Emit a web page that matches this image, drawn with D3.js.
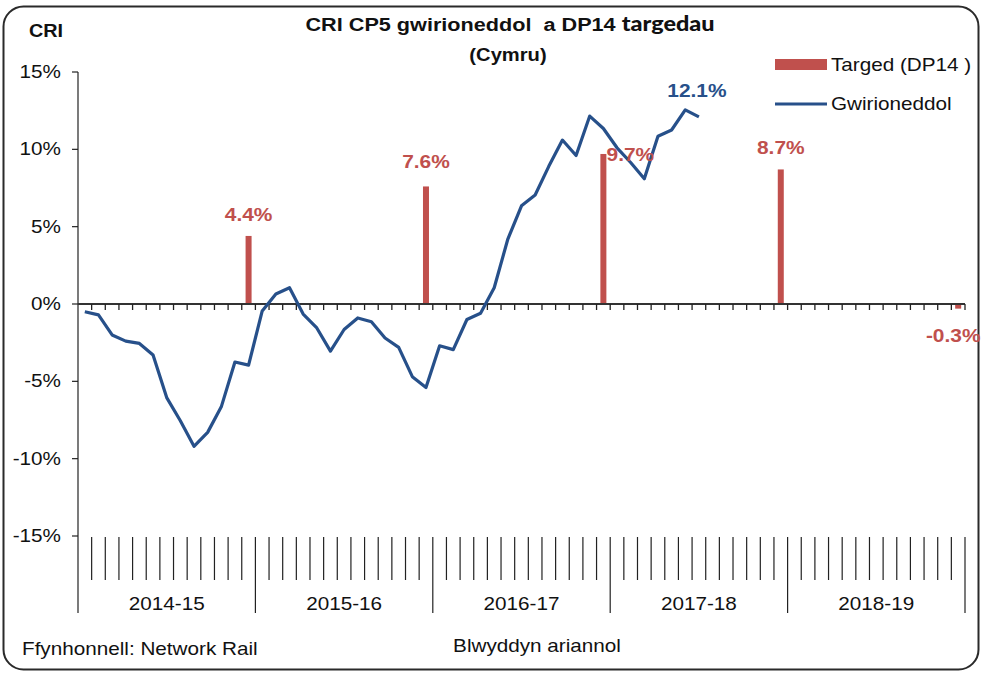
<!DOCTYPE html>
<html><head><meta charset="utf-8">
<script src="https://cdn.jsdelivr.net/npm/d3@7/dist/d3.min.js"></script>
<style>
html,body{margin:0;padding:0;background:#fff;}
svg text{font-family:"Liberation Sans",Arial,sans-serif;white-space:pre;}
</style></head>
<body><svg id="c" width="981" height="673"></svg>
<script>
// ---- data ----
const years = ["2014-15","2015-16","2016-17","2017-18","2018-19"];
const periods = ["P1","P2","P3","P4","P5","P6","P7","P8","P9","P10","P11","P12","P13"];
const actual = [-0.5,-0.7,-2.0,-2.4,-2.55,-3.3,-6.05,-7.55,-9.2,-8.3,-6.65,-3.75,-3.95,
  -0.45,0.65,1.05,-0.65,-1.55,-3.05,-1.65,-0.9,-1.15,-2.2,-2.8,-4.7,-5.4,
  -2.7,-2.95,-1.0,-0.6,1.05,4.2,6.35,7.05,8.9,10.6,9.6,12.15,11.35,
  10.1,9.15,8.1,10.85,11.25,12.55,12.1];
const targetYears = ["2014-15","2015-16","2016-17","2017-18","2018-19"];
const targetPeriod = "P13";
const targets = [4.4,7.6,9.7,8.7,-0.3];
const yTicks = [15,10,5,0,-5,-10,-15];

const categories = [];
years.forEach(y => periods.forEach(p => categories.push(y + " " + p)));

const svg = d3.select("#c");
const SX = 1.15;
const red = "#C0504D", blue = "#27508A";

// frame
svg.append("rect").attr("x",3.5).attr("y",6.5).attr("width",975).attr("height",663)
  .attr("rx",20).attr("fill","#fff").attr("stroke","#2a2a2a").attr("stroke-width",2);

const x = d3.scaleBand().domain(categories).range([78,965]).padding(0);
const y = d3.scaleLinear().domain([-15,15]).range([536,72]);

function txt(xp, yp, s, o={}){
  const t = svg.append("text")
    .attr("transform",`translate(${xp},${yp}) scale(${o.sx||SX},1)`)
    .attr("text-anchor",o.anchor||"start")
    .attr("font-size",o.size||18)
    .attr("font-weight",o.weight||"normal")
    .attr("fill",o.fill||"#111")
    .text(s);
  return t;
}

// y axis
svg.append("line").attr("x1",78).attr("x2",78).attr("y1",y(15)).attr("y2",613)
  .attr("stroke","#222").attr("stroke-width",1.2);
yTicks.forEach(v=>{
  svg.append("line").attr("x1",72).attr("x2",78).attr("y1",y(v)).attr("y2",y(v))
    .attr("stroke","#222").attr("stroke-width",1.2);
  txt(61, y(v)+6, v+"%", {anchor:"end"});
});

// bottom category ticks
categories.forEach((c,i)=>{
  const xx = x(c) + x.bandwidth();
  const isYear = (i % 13) === 12;
  svg.append("line").attr("x1",xx).attr("x2",xx).attr("y1",537).attr("y2",isYear?613:580)
    .attr("stroke","#222").attr("stroke-width",1.2);
});
years.forEach(yr=>{
  const x0 = x(yr+" P1"), x1 = x(yr+" P13")+x.bandwidth();
  txt((x0+x1)/2, 610, yr, {anchor:"middle"});
});

// bars
targets.forEach((v,i)=>{
  const c = targetYears[i]+" "+targetPeriod;
  const cx = x(c)+x.bandwidth()/2;
  svg.append("rect").attr("x",cx-3).attr("width",6)
    .attr("y",Math.min(y(v),y(0))).attr("height",Math.abs(y(v)-y(0)))
    .attr("fill",red);
});

// zero axis
svg.append("line").attr("x1",78).attr("x2",965).attr("y1",y(0)).attr("y2",y(0))
  .attr("stroke","#333").attr("stroke-width",1.8);
categories.forEach(c=>{
  const xx = x(c)+x.bandwidth();
  svg.append("line").attr("x1",xx).attr("x2",xx).attr("y1",y(0)).attr("y2",y(0)+6)
    .attr("stroke","#222").attr("stroke-width",1.3);
});

// line
const line = d3.line().x((d,i)=>x(categories[i])+x.bandwidth()/2).y(d=>y(d));
svg.append("path").datum(actual).attr("d",line).attr("fill","none")
  .attr("stroke",blue).attr("stroke-width",3.2).attr("stroke-linejoin","round");

// bar labels
const labOff = [[0,-15],[0,-18],[27,7],[0,-15],[-5,38]];
targets.forEach((v,i)=>{
  const c = targetYears[i]+" "+targetPeriod;
  const cx = x(c)+x.bandwidth()/2;
  const top = v>=0 ? y(v) : y(0);
  txt(cx+labOff[i][0], top+labOff[i][1], v.toFixed(1)+"%",
      {anchor:"middle",weight:"bold",size:19,sx:1.1,fill:red});
});
// last actual label
{
  const i = actual.length-1;
  const cx = x(categories[i])+x.bandwidth()/2;
  txt(cx-2, y(actual[i])-20, actual[i].toFixed(1)+"%", {anchor:"middle",weight:"bold",size:19,sx:1.1,fill:blue});
}

// legend
svg.append("rect").attr("x",775).attr("y",59).attr("width",52).attr("height",11).attr("fill",red);
txt(831, 71, "Targed (DP14 )");
svg.append("line").attr("x1",775).attr("x2",827).attr("y1",104).attr("y2",104)
  .attr("stroke",blue).attr("stroke-width",3);
txt(831, 110, "Gwirioneddol");

// titles
const tt = svg.append("text").attr("transform","translate(510,31) scale(1.17,1)")
  .attr("text-anchor","middle").attr("font-size",18.5).attr("font-weight","bold").attr("fill","#111");
tt.append("tspan").text("CRI CP5 gwirioneddol  a DP14 ");
tt.append("tspan").attr("font-family","Lato").attr("font-size",20).attr("font-weight",900).text("targedau");
txt(508, 61, "(Cymru)", {anchor:"middle",weight:"bold",size:18,sx:1.12});
txt(29, 37, "CRI", {weight:"bold",size:18,sx:1.1});

// footer
txt(22, 655, "Ffynhonnell: Network Rail");
txt(537, 652, "Blwyddyn ariannol", {anchor:"middle"});
</script>
</body></html>
